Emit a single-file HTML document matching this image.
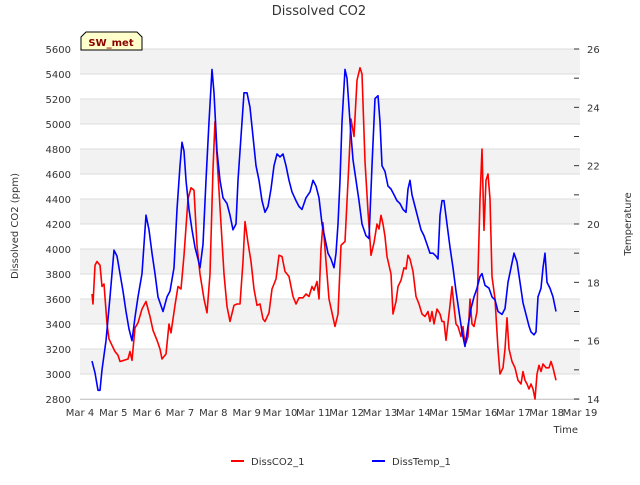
<!DOCTYPE html>
<html><head><meta charset="utf-8"><style>
body{margin:0;background:#fff;}
text{font-family:"DejaVu Sans","Liberation Sans",sans-serif;}
</style></head><body>
<svg id="chart" width="640" height="480" xmlns="http://www.w3.org/2000/svg">
<text x="319" y="15" text-anchor="middle" font-size="13" fill="#333">Dissolved CO2</text>
<g id="bands"></g>
<g id="grid"></g>
<g id="xaxis"></g><g id="yaxis"></g><g id="y2axis"></g>
<g id="series"></g>
<text transform="translate(18,226) rotate(-90)" text-anchor="middle" font-size="10" fill="#333">Dissolved CO2 (ppm)</text>
<text transform="translate(631,224) rotate(-90)" text-anchor="middle" font-size="10" fill="#333">Temperature</text>
<text x="578" y="433" text-anchor="end" font-size="10" fill="#333">Time</text>
<g>
<path d="M81,50 L81,37 L86,32 L137,32 L142,37 L142,50 Z" fill="#ffffcc" stroke="#000" stroke-width="1"/>
<text x="111" y="46" text-anchor="middle" font-size="10" font-weight="bold" fill="#8b0000">SW_met</text>
</g>
<g>
<g><line x1="231" y1="461" x2="244" y2="461" stroke="red" stroke-width="2"/><text x="251" y="465" font-size="10" fill="#333">DissCO2_1</text></g>
<g><line x1="372" y1="461" x2="385" y2="461" stroke="blue" stroke-width="2"/><text x="392" y="465" font-size="10" fill="#333">DissTemp_1</text></g>
</g>
</svg>
<script>
const xTickLabels=["Mar 4","Mar 5","Mar 6","Mar 7","Mar 8","Mar 9","Mar 10","Mar 11","Mar 12","Mar 13","Mar 14","Mar 15","Mar 16","Mar 17","Mar 18","Mar 19"];
const yTicks=[2800,3000,3200,3400,3600,3800,4000,4200,4400,4600,4800,5000,5200,5400,5600];
const y2Ticks=[14,16,18,20,22,24,26];
const co2Days=[.36,.39,.45,.51,.60,.66,.72,.81,.87,.96,1.05,1.14,1.20,1.32,1.44,1.50,1.56,1.65,1.74,1.86,1.98,2.10,2.19,2.31,2.40,2.46,2.58,2.67,2.73,2.85,2.94,3.03,3.12,3.24,3.33,3.42,3.51,3.60,3.72,3.81,3.90,3.99,4.05,4.14,4.23,4.32,4.41,4.50,4.62,4.71,4.80,4.89,4.95,5.04,5.13,5.22,5.31,5.40,5.49,5.55,5.67,5.76,5.88,5.97,6.06,6.15,6.27,6.39,6.48,6.57,6.69,6.78,6.87,6.96,7.02,7.11,7.17,7.23,7.29,7.38,7.47,7.56,7.65,7.74,7.83,7.95,8.07,8.13,8.22,8.31,8.40,8.46,8.55,8.64,8.73,8.82,8.91,8.97,9.03,9.09,9.15,9.21,9.33,9.39,9.48,9.54,9.63,9.72,9.78,9.84,9.90,9.99,10.08,10.17,10.26,10.35,10.44,10.50,10.56,10.62,10.71,10.80,10.86,10.92,10.98,11.04,11.10,11.16,11.22,11.28,11.34,11.43,11.49,11.52,11.58,11.64,11.70,11.76,11.82,11.91,11.94,12.00,12.06,12.12,12.18,12.24,12.30,12.36,12.45,12.54,12.60,12.69,12.75,12.81,12.87,12.96,13.05,13.14,13.23,13.29,13.35,13.41,13.47,13.53,13.59,13.65,13.71,13.77,13.83,13.89,13.98,14.07,14.13,14.19,14.28];
const co2Values=[3640,3560,3870,3900,3870,3700,3720,3400,3280,3230,3180,3150,3100,3110,3120,3180,3110,3370,3410,3520,3580,3460,3350,3270,3200,3120,3160,3400,3330,3550,3700,3680,3950,4400,4490,4470,4030,3800,3600,3490,3800,4640,5020,4600,4200,3800,3540,3420,3550,3560,3560,3900,4220,4050,3900,3680,3550,3560,3440,3420,3490,3680,3760,3950,3940,3820,3780,3620,3560,3610,3610,3640,3620,3700,3670,3740,3600,4000,4210,3900,3600,3490,3380,3480,4030,4060,4700,5040,4900,5350,5450,5400,4700,4300,3950,4050,4200,4160,4270,4200,4100,3940,3800,3480,3580,3700,3750,3850,3840,3950,3920,3820,3620,3560,3480,3460,3500,3420,3500,3400,3520,3480,3420,3420,3270,3410,3550,3700,3540,3400,3380,3300,3380,3300,3250,3300,3600,3400,3380,3500,3800,4400,4800,4150,4550,4600,4400,3780,3600,3200,3000,3050,3200,3450,3200,3100,3050,2950,2920,3020,2950,2920,2880,2920,2880,2800,3000,3070,3020,3080,3050,3050,3100,3050,2950];
const tempDays=[.36,.45,.54,.60,.66,.78,.90,1.02,1.11,1.20,1.29,1.38,1.47,1.56,1.65,1.74,1.86,1.92,1.98,2.07,2.16,2.25,2.34,2.49,2.61,2.70,2.82,2.91,3.00,3.06,3.12,3.18,3.27,3.36,3.45,3.54,3.60,3.69,3.78,3.87,3.96,4.02,4.11,4.20,4.29,4.41,4.50,4.59,4.68,4.74,4.83,4.92,5.01,5.10,5.19,5.28,5.37,5.46,5.55,5.64,5.73,5.82,5.91,6.00,6.09,6.18,6.27,6.36,6.48,6.57,6.66,6.78,6.90,6.99,7.08,7.17,7.26,7.35,7.44,7.53,7.62,7.68,7.74,7.80,7.86,7.95,8.01,8.10,8.19,8.28,8.37,8.46,8.58,8.67,8.76,8.85,8.94,9.00,9.06,9.15,9.24,9.33,9.42,9.51,9.60,9.69,9.78,9.84,9.90,9.96,10.05,10.14,10.23,10.32,10.41,10.50,10.59,10.68,10.74,10.80,10.86,10.92,11.01,11.10,11.19,11.28,11.37,11.46,11.55,11.64,11.73,11.82,11.91,12.00,12.06,12.15,12.27,12.36,12.45,12.54,12.66,12.75,12.84,12.93,13.02,13.11,13.20,13.29,13.38,13.47,13.53,13.62,13.68,13.74,13.83,13.89,13.95,14.01,14.10,14.19,14.28];
const tempValues=[15.3,14.9,14.3,14.3,15.0,16.0,17.5,19.1,18.9,18.3,17.7,17.0,16.4,16.0,16.8,17.5,18.3,19.3,20.3,19.8,19.0,18.3,17.5,17.0,17.5,17.7,18.5,20.5,22.0,22.8,22.5,21.5,20.5,19.8,19.2,18.8,18.5,19.3,21.5,23.5,25.3,24.5,22.5,21.5,20.9,20.7,20.3,19.8,20.0,21.5,23.0,24.5,24.5,24.0,23.0,22.0,21.5,20.8,20.4,20.6,21.2,22.0,22.4,22.3,22.4,22.0,21.5,21.1,20.8,20.6,20.5,20.9,21.1,21.5,21.3,20.9,20.0,19.5,19.0,18.8,18.5,19.0,20.0,21.5,23.5,25.3,25.0,23.5,22.2,21.5,20.8,20.0,19.6,19.5,22.0,24.3,24.4,23.5,22.0,21.8,21.3,21.2,21.0,20.8,20.7,20.5,20.4,21.2,21.5,21.0,20.6,20.2,19.8,19.6,19.3,19.0,19.0,18.9,18.8,20.3,20.8,20.8,20.0,19.2,18.5,17.7,17.0,16.3,15.8,16.5,17.1,17.5,17.8,18.2,18.3,17.9,17.8,17.5,17.4,17.0,16.9,17.1,18.0,18.5,19.0,18.7,18.0,17.3,16.9,16.5,16.3,16.2,16.3,17.5,17.8,18.5,19.0,18.0,17.8,17.5,17.0];

const NS="http://www.w3.org/2000/svg";
const L=80,R=580,T=49,B=399;
const xs=d=>L+d*(R-L)/15;
const ys=v=>B-(v-2800)*(B-T)/2800;
const y2s=v=>B-(v-14)*(B-T)/12;
function mk(tag,attrs,parent){const e=document.createElementNS(NS,tag);for(const k in attrs)e.setAttribute(k,attrs[k]);parent.appendChild(e);return e;}
const bands=document.getElementById('bands'),grid=document.getElementById('grid');
for(let i=0;i<yTicks.length-1;i++){
  if((yTicks.length-2-i)%2===0){
    const r=mk('rect',{x:L,y:ys(yTicks[i+1]),width:R-L,height:ys(yTicks[i])-ys(yTicks[i+1]),fill:'#f2f2f2'},bands);
    
    
  }
}
const ya=document.getElementById('yaxis');
yTicks.forEach(v=>{
  const l=mk('line',{x1:L,x2:R,y1:ys(v),y2:ys(v),stroke:'#dcdcdc','stroke-width':1},grid);
  
  
  const t=mk('text',{x:L-9,y:ys(v)+4,'text-anchor':'end','font-size':10,fill:'#333'},ya);
  t.textContent=v;
  
  
});
const y2a=document.getElementById('y2axis');
for(let v=14;v<=26;v++){
  const tk=mk('line',{x1:R-6,x2:R-1,y1:y2s(v),y2:y2s(v),stroke:'#333','stroke-width':1},y2a);
  
  
}
y2Ticks.forEach(v=>{
  const t=mk('text',{x:R+7,y:y2s(v)+4,'font-size':10,fill:'#333'},y2a);
  t.textContent=v;
  
  
});
const xa=document.getElementById('xaxis');
mk('line',{x1:L,x2:R,y1:B+0.5,y2:B+0.5,stroke:'#ccc'},xa);
xTickLabels.forEach((s,i)=>{
  const t=mk('text',{x:xs(i),y:B+17,'text-anchor':'middle','font-size':10,fill:'#333'},xa);
  t.textContent=s;
  
  
});
const sg=document.getElementById('series');
const p1=mk('polyline',{points:co2Days.map((d,i)=>xs(d).toFixed(1)+','+ys(co2Values[i]).toFixed(1)).join(' '),fill:'none',stroke:'red','stroke-width':1.6,'stroke-linejoin':'round'},sg);


const p2=mk('polyline',{points:tempDays.map((d,i)=>xs(d).toFixed(1)+','+y2s(tempValues[i]).toFixed(1)).join(' '),fill:'none',stroke:'blue','stroke-width':1.6,'stroke-linejoin':'round'},sg);


</script>
</body></html>
